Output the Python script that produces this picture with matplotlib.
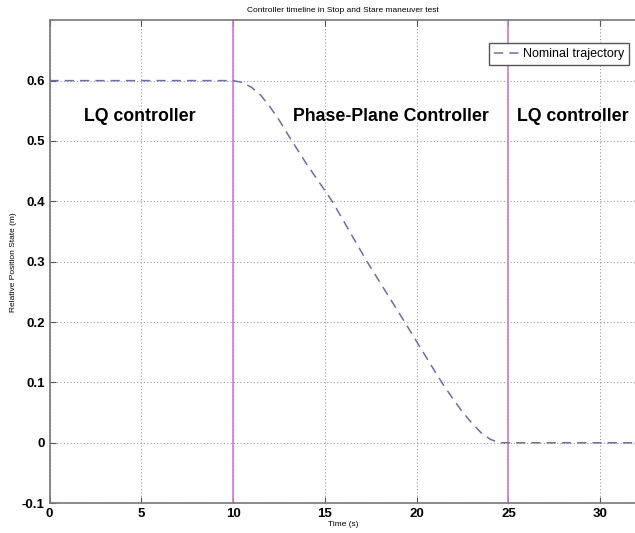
import numpy as np
import matplotlib.pyplot as plt

# Nominal trajectory (time in s, relative position in m)
t = [0, 10, 10.5, 11, 11.5, 12, 12.5, 13, 14, 15, 15.4, 17.3, 19.35, 21, 21.5,
     22, 22.5, 23, 23.5, 24, 24.5, 33]
pos = [0.6, 0.6, 0.597, 0.589, 0.576, 0.557, 0.535, 0.51, 0.462, 0.418, 0.4, 0.3,
       0.2, 0.118, 0.094, 0.072, 0.051, 0.033, 0.017, 0.006, 0.0, 0.0]

switch_times = [10, 25]
regions = ['LQ controller', 'Phase-Plane Controller', 'LQ controller']
region_x = [4.9, 18.6, 28.5]

plt.rcParams['font.family'] = ['Liberation Sans', 'DejaVu Sans']

fig = plt.figure(figsize=(6.35, 5.33), dpi=100)
ax = fig.add_axes([0.078, 0.056, 0.925, 0.906])

for ts in switch_times:
    ax.axvline(ts, color='#c77fcf', linewidth=1.2, zorder=2)

ax.plot(t, pos, linestyle=(0, (6, 4)), color='#6d6da8', linewidth=1.1,
        label='Nominal trajectory', zorder=3)

for name, xr in zip(regions, region_x):
    ax.text(xr, 0.54, name, ha='center', va='center', fontsize=12.8,
            fontweight='bold')

ax.set_xlim(0, 32)
ax.set_ylim(-0.1, 0.7)
ax.set_xticks(np.arange(0, 31, 5))
ax.set_yticks(np.round(np.arange(-0.1, 0.61, 0.1), 1))
ax.set_yticklabels(['-0.1', '0', '0.1', '0.2', '0.3', '0.4', '0.5', '0.6'])
ax.grid(True, linestyle=(0, (1, 2)), color='#999999', linewidth=0.8)
ax.tick_params(direction='in', top=True, labelsize=9.5, length=4, color='#555555')
for lbl in ax.get_xticklabels() + ax.get_yticklabels():
    lbl.set_fontweight('bold')
ax.spines['right'].set_visible(False)
for s in ['left', 'bottom', 'top']:
    ax.spines[s].set_color('#777777')
    ax.spines[s].set_linewidth(1.2)

ax.set_title('Controller timeline in Stop and Stare maneuver test', fontsize=6, pad=6)
ax.set_xlabel('Time (s)', fontsize=6, labelpad=1)
ax.set_ylabel('Relative Position State (m)', fontsize=6)
ax.yaxis.set_label_coords(-0.055, 0.5)

leg = ax.legend(loc='upper right', fontsize=9, handlelength=2.2, handletextpad=0.1,
                fancybox=False, framealpha=1, borderpad=0.4,
                bbox_to_anchor=(0.997, 0.965))
leg.get_frame().set_edgecolor('#555555')

fig.savefig('out.png', dpi=100)
